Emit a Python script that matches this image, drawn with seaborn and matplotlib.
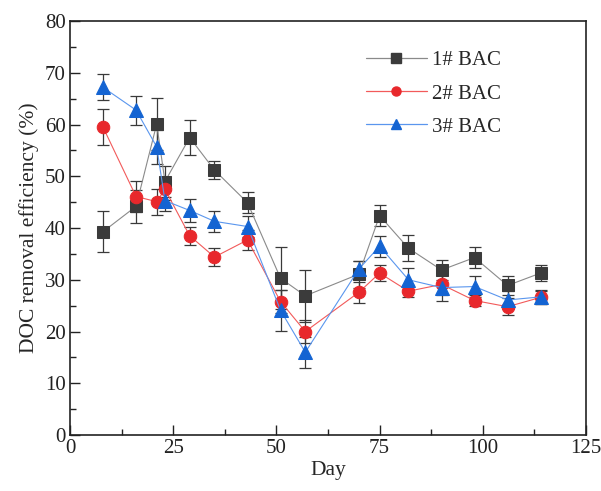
import numpy as np
import pandas as pd
import seaborn as sns
import matplotlib.pyplot as plt
from matplotlib.ticker import MultipleLocator
from matplotlib.lines import Line2D

days = [8, 16, 21, 23, 29, 35, 43, 51, 57, 70, 75, 82, 90, 98, 106, 114]

bac1 = [39.3, 44.2, 60.1, 49.0, 57.5, 51.2, 44.9, 30.3, 26.9, 31.1, 42.4, 36.1, 31.9, 34.3, 28.9, 31.3]
bac1_err = [4.0, 3.2, 5.0, 3.0, 3.3, 1.8, 2.0, 6.0, 5.0, 2.6, 2.0, 2.5, 2.0, 2.0, 1.8, 1.5]

bac2 = [59.5, 46.1, 45.1, 47.5, 38.5, 34.4, 37.7, 25.8, 20.0, 27.6, 31.3, 27.8, 29.1, 26.0, 24.8, 26.6]
bac2_err = [3.5, 3.0, 2.5, 2.0, 1.8, 1.8, 2.0, 2.2, 2.2, 2.0, 1.5, 1.2, 2.0, 1.0, 1.6, 1.2]

bac3 = [67.2, 62.8, 55.7, 45.3, 43.4, 41.3, 40.3, 24.1, 16.0, 32.1, 36.5, 30.0, 28.5, 28.7, 26.1, 26.7]
bac3_err = [2.5, 2.8, 3.3, 2.0, 2.2, 2.0, 2.0, 4.0, 3.0, 1.5, 2.0, 2.3, 2.5, 2.0, 1.8, 1.3]

labels = ['1# BAC', '2# BAC', '3# BAC']

sns.set_style('ticks')
plt.rcParams['font.family'] = ['Liberation Serif', 'DejaVu Serif']

df = pd.DataFrame({
    'Day': days * 3,
    'val': bac1 + bac2 + bac3,
    'err': bac1_err + bac2_err + bac3_err,
    'grp': [labels[0]] * len(days) + [labels[1]] * len(days) + [labels[2]] * len(days),
})

line_cols = {'1# BAC': '#8a8a8a', '2# BAC': '#f25a5a', '3# BAC': '#5a96ee'}
mk_cols = {'1# BAC': '#3b3b3b', '2# BAC': '#e8282c', '3# BAC': '#1464d2'}
mks = {'1# BAC': 's', '2# BAC': 'o', '3# BAC': '^'}

fig, ax = plt.subplots(figsize=(6.01, 4.91), dpi=100)
fig.subplots_adjust(left=0.1165, right=0.975, bottom=0.114, top=0.957)

for g in labels:
    sub = df[df['grp'] == g]
    ax.errorbar(sub['Day'], sub['val'], yerr=sub['err'], fmt='none',
                ecolor='#3a3a3a', elinewidth=0.9, capsize=4, capthick=0.9, zorder=2)

for g in labels:
    sub = df[df['grp'] == g]
    sns.lineplot(data=sub, x='Day', y='val', ax=ax, color=line_cols[g], lw=0.8,
                 marker=mks[g], markersize=9 if g != '3# BAC' else 10,
                 markerfacecolor=mk_cols[g], markeredgecolor=mk_cols[g],
                 legend=False, zorder=3)

ax.set_xlim(0, 125)
ax.set_ylim(0, 80)
ax.xaxis.set_major_locator(MultipleLocator(25))
ax.xaxis.set_minor_locator(MultipleLocator(12.5))
ax.yaxis.set_major_locator(MultipleLocator(10))
ax.yaxis.set_minor_locator(MultipleLocator(5))
ax.tick_params(which='major', direction='in', length=7, width=1, labelsize=15, colors='#222222', pad=3)
ax.tick_params(which='minor', direction='in', length=4, width=1, colors='#222222')
for s in ax.spines.values():
    s.set_linewidth(1.2)
    s.set_color('#222222')

ax.set_xlabel('Day', fontsize=15.5, labelpad=2)
ax.set_ylabel('DOC removal efficiency (%)', fontsize=15.5, labelpad=4)

handles = [Line2D([], [], color=line_cols[g], lw=0.9, marker=mks[g], markersize=6.5,
                  markerfacecolor=mk_cols[g], markeredgecolor=mk_cols[g]) for g in labels]
leg = ax.legend(handles, labels, loc='upper left', bbox_to_anchor=(0.574, 0.928),
                frameon=False, fontsize=15, handlelength=2.9, labelspacing=0.65,
                handletextpad=0.25, borderpad=0, borderaxespad=0)

fig.savefig('out.png', dpi=100)
